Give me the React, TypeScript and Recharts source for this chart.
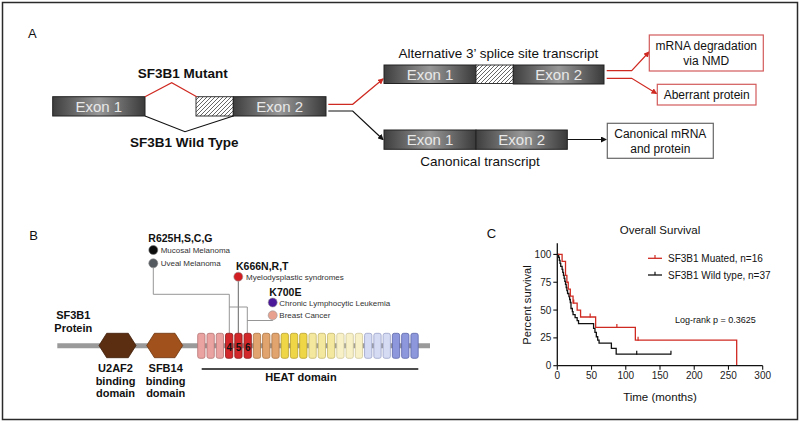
import React from 'react';
import { ComposedChart, Line, Scatter, XAxis, YAxis } from 'recharts';

// ---------- Panel C data (Kaplan-Meier, Overall Survival) ----------
const mutTimes = [0, 7, 12, 14, 16, 19, 23, 29, 34, 56, 114, 262];
const mutSurv = [100, 93.75, 81.25, 75, 68.75, 62.5, 56.25, 50, 43.75, 34.4, 22.9, 0];
const mutCensorTimes = [24, 48, 87, 118];
const mutCensorSurv = [56.25, 43.75, 34.4, 22.9];

const wtTimes = [0, 2, 3, 4, 5, 7, 8, 9, 10, 11, 12, 13, 14, 15, 17, 18, 19, 20, 22, 23, 26, 29, 31, 53, 55, 57, 59, 61, 79, 86, 166];
const wtSurv = [100, 97.3, 94.6, 91.9, 89.2, 86.5, 83.8, 81.1, 78.4, 75.7, 73, 70.3, 67.6, 64.9, 62.2, 59.5, 56.8, 51.4, 48.6, 45.9, 43.2, 40.5, 37.8, 33.5, 30, 26, 23, 20.3, 15.6, 10.4, 10.4];
const wtCensorTimes = [116, 166];
const wtCensorSurv = [10.4, 10.4];

const xTicks = [0, 50, 100, 150, 200, 250, 300];
const yTicks = [0, 25, 50, 75, 100];

const seriesNames = ['SF3B1 Muated, n=16', 'SF3B1 Wild type, n=37'];

// ---------- Panel B data ----------
const heatFills = ['#eaa3a1', '#eaa3a1', '#eaa3a1', '#d3282b', '#d3282b', '#d3282b', '#e1a46e', '#e1a46e', '#e1a46e', '#eed646', '#eed646', '#eed646', '#f3e89e', '#f3e89e', '#f3e89e', '#f8f1c7', '#f8f1c7', '#f8f1c7', '#d5dbf3', '#d5dbf3', '#d5dbf3', '#8d98dc', '#8d98dc', '#8d98dc'];
const heatStrokes = ['#b27472', '#b27472', '#b27472', '#8a1a1a', '#8a1a1a', '#8a1a1a', '#aa7444', '#aa7444', '#aa7444', '#b8a030', '#b8a030', '#b8a030', '#c4b670', '#c4b670', '#c4b670', '#cfc69a', '#cfc69a', '#cfc69a', '#9aa2c8', '#9aa2c8', '#9aa2c8', '#5c66a8', '#5c66a8', '#5c66a8'];
const heatNumbers = ['', '', '', '4', '5', '6'];

const mutData = mutTimes.map((t, i) => ({ t, s: mutSurv[i] }));
const wtData = wtTimes.map((t, i) => ({ t, s: wtSurv[i] }));
const mutCensor = mutCensorTimes.map((t, i) => ({ t, s: mutCensorSurv[i] }));
const wtCensor = wtCensorTimes.map((t, i) => ({ t, s: wtCensorSurv[i] }));

const RED = '#cf2a22';
const BLK = '#111111';
const FONT = '"Liberation Sans", Arial, Helvetica, sans-serif';

const censorShape = (color: string) => (props: any) => {
  const { cx, cy } = props;
  if (cx == null || cy == null) return <g />;
  return <line x1={cx} x2={cx} y1={cy - 3.5} y2={cy + 0.5} stroke={color} strokeWidth={1.2} />;
};

function Exon({ x, y, w, h, label }: { x: number; y: number; w: number; h: number; label: string }) {
  return (
    <g>
      <rect x={x} y={y} width={w} height={h} fill="url(#exonGrad)" stroke="#222" strokeWidth={1} />
      <text x={x + w / 2} y={y + h / 2 + 5.4} textAnchor="middle" fontSize={15} fill="#e8e8e8">{label}</text>
    </g>
  );
}

function Hatch({ x, y, w, h }: { x: number; y: number; w: number; h: number }) {
  return <rect x={x} y={y} width={w} height={h} fill="url(#hatch)" stroke="#333" strokeWidth={1} />;
}

function hexPoints(x0: number, x1: number, y0: number, y1: number, d: number) {
  const cy = (y0 + y1) / 2;
  return `${x0},${cy} ${x0 + d},${y0} ${x1 - d},${y0} ${x1},${cy} ${x1 - d},${y1} ${x0 + d},${y1}`;
}

function Diagram() {
  const heatX0 = 197.7;
  const heatStep = 9.27;
  const heatW = 7.3;
  return (
    <svg width={800} height={423} style={{ position: 'absolute', left: 0, top: 0 }} fontFamily={FONT}>
      <defs>
        <linearGradient id="exonGrad" x1="0" y1="0" x2="1" y2="0">
          <stop offset="0" stopColor="#3e3e3e" />
          <stop offset="0.5" stopColor="#979797" />
          <stop offset="1" stopColor="#3a3a3a" />
        </linearGradient>
        <pattern id="hatch" patternUnits="userSpaceOnUse" width={4} height={4}>
          <rect width={4} height={4} fill="#fff" />
          <path d="M-1,1 l2,-2 M0,4 l4,-4 M3,5 l2,-2" stroke="#555" strokeWidth={0.9} />
        </pattern>
        <marker id="arrRed" markerWidth={6} markerHeight={6} refX={5} refY={3} orient="auto" markerUnits="userSpaceOnUse">
          <path d="M0,0 L6,3 L0,6 z" fill={RED} />
        </marker>
        <marker id="arrBlk" markerWidth={6} markerHeight={6} refX={5} refY={3} orient="auto" markerUnits="userSpaceOnUse">
          <path d="M0,0 L6,3 L0,6 z" fill="#111" />
        </marker>
      </defs>

      <rect x={2.5} y={2.5} width={795} height={417} fill="none" stroke="#2a2a2a" strokeWidth={1.5} />

      {/* Panel A */}
      <text x={28} y={37.7} fontSize={13} fill="#111">A</text>
      <Exon x={52.7} y={96.7} w={92.3} h={19.3} label="Exon 1" />
      <Hatch x={196} y={96.7} w={37.3} h={19.3} />
      <Exon x={233.3} y={96.7} w={92.7} h={19.3} label="Exon 2" />
      <polyline points="145,96.7 171.7,82.7 196.7,96.7" fill="none" stroke={RED} strokeWidth={1.2} />
      <polyline points="145,116 185,131.7 233.3,116" fill="none" stroke="#111" strokeWidth={1.2} />
      <text x={182.7} y={77.5} textAnchor="middle" fontSize={13.5} fontWeight="bold" fill="#111">SF3B1 Mutant</text>
      <text x={184.3} y={146.5} textAnchor="middle" fontSize={13.5} fontWeight="bold" fill="#111">SF3B1 Wild Type</text>

      <polyline points="328.3,104.3 352.7,104.3 383,79" fill="none" stroke={RED} strokeWidth={1.2} markerEnd="url(#arrRed)" />
      <polyline points="328.3,111 352.7,111 383,139.5" fill="none" stroke="#111" strokeWidth={1.2} markerEnd="url(#arrBlk)" />

      <text x={498.3} y={58} textAnchor="middle" fontSize={13.5} fill="#111">Alternative 3’ splice site transcript</text>
      <Exon x={384} y={65} w={92} h={18.5} label="Exon 1" />
      <Hatch x={476} y={65} w={37.3} h={18.5} />
      <Exon x={513.3} y={65} w={90.7} h={19} label="Exon 2" />

      <polyline points="606.7,70.7 631.7,70.7 649,52" fill="none" stroke={RED} strokeWidth={1.2} markerEnd="url(#arrRed)" />
      <polyline points="606.7,78.3 631.7,78.3 656.5,93.5" fill="none" stroke={RED} strokeWidth={1.2} markerEnd="url(#arrRed)" />
      <rect x={649.3} y={35} width={114} height={36} fill="#fff" stroke="#d25a5a" strokeWidth={1.2} />
      <text x={706.3} y={49.8} textAnchor="middle" fontSize={12} fill="#111">mRNA degradation</text>
      <text x={706.3} y={65} textAnchor="middle" fontSize={12} fill="#111">via NMD</text>
      <rect x={657.3} y={84.3} width={98.7} height={20.7} fill="#fff" stroke="#d25a5a" strokeWidth={1.2} />
      <text x={706.7} y={99} textAnchor="middle" fontSize={12} fill="#111">Aberrant protein</text>

      <Exon x={384} y={130} w={92} h={19.3} label="Exon 1" />
      <Exon x={476} y={130} w={91.3} h={19.3} label="Exon 2" />
      <text x={480} y={165.5} textAnchor="middle" fontSize={13.5} fill="#111">Canonical transcript</text>
      <line x1={567.3} y1={139.5} x2={606} y2={139.5} stroke="#111" strokeWidth={1.2} markerEnd="url(#arrBlk)" />
      <rect x={607.3} y={123.3} width={106} height={35} fill="#fff" stroke="#666" strokeWidth={1.2} />
      <text x={660.3} y={137.5} textAnchor="middle" fontSize={12} fill="#111">Canonical mRNA</text>
      <text x={660.3} y={152.5} textAnchor="middle" fontSize={12} fill="#111">and protein</text>

      {/* Panel B */}
      <text x={29.3} y={240} fontSize={13} fill="#111">B</text>
      <line x1={57.3} y1={345.7} x2={430} y2={345.7} stroke="#9a9a9a" strokeWidth={5} />
      <polygon points={hexPoints(99, 136, 333.3, 357.7, 7.7)} fill="#5b2e12" stroke="#3e1d08" strokeWidth={0.8} />
      <polygon points={hexPoints(146.7, 182.7, 333.3, 357.7, 7.7)} fill="#a1521c" stroke="#6e360f" strokeWidth={0.8} />
      <text textAnchor="middle" fontSize={11} fontWeight="bold" fill="#111">
        <tspan x={73.3} y={319}>SF3B1</tspan>
        <tspan x={73.3} y={331.5}>Protein</tspan>
      </text>
      <text textAnchor="middle" fontSize={11} fontWeight="bold" fill="#111">
        <tspan x={115.5} y={372.3}>U2AF2</tspan>
        <tspan x={115.5} y={384.8}>binding</tspan>
        <tspan x={115.5} y={397.3}>domain</tspan>
      </text>
      <text textAnchor="middle" fontSize={11} fontWeight="bold" fill="#111">
        <tspan x={165.7} y={372.3}>SFB14</tspan>
        <tspan x={165.7} y={384.8}>binding</tspan>
        <tspan x={165.7} y={397.3}>domain</tspan>
      </text>

      {/* mutation connectors */}
      <polyline points="153.3,267.8 153.3,294.3 229.3,294.3 229.3,333.3" fill="none" stroke="#8a8a8a" strokeWidth={0.9} />
      <line x1={238.3} y1={281.2} x2={238.3} y2={333.3} stroke="#555" strokeWidth={0.9} />
      <polyline points="229.3,307 247.3,307 247.3,333.3" fill="none" stroke="#8a8a8a" strokeWidth={0.9} />
      <polyline points="272.7,319.8 272.7,320.5 247.3,320.5" fill="none" stroke="#8a8a8a" strokeWidth={0.9} />

      {heatFills.map((f, i) => {
        const x = heatX0 + i * heatStep;
        return (
          <g key={i}>
            <rect x={x} y={333.3} width={heatW} height={25} rx={2} fill={f} stroke={heatStrokes[i]} strokeWidth={0.8} />
            {heatNumbers[i] ? (
              <text x={x + heatW / 2} y={350.5} textAnchor="middle" fontSize={10} fontWeight="bold" fill="#111">{heatNumbers[i]}</text>
            ) : null}
          </g>
        );
      })}
      <line x1={201.7} y1={369} x2={418.3} y2={369} stroke="#111" strokeWidth={1.3} />
      <text x={301} y={380.7} textAnchor="middle" fontSize={11} fontWeight="bold" fill="#111">HEAT domain</text>

      <text x={148.3} y={242} fontSize={10.5} fontWeight="bold" fill="#111">R625H,S,C,G</text>
      <circle cx={153.3} cy={250} r={4.5} fill="#0c0c0c" stroke="#777" strokeWidth={0.6} />
      <text x={160.7} y={252.8} fontSize={8} fill="#333">Mucosal Melanoma</text>
      <circle cx={153.3} cy={263.3} r={4.5} fill="#555a60" stroke="#888" strokeWidth={0.6} />
      <text x={160.7} y={266} fontSize={8} fill="#333">Uveal Melanoma</text>

      <text x={236} y={269.5} fontSize={10.5} fontWeight="bold" fill="#111">K666N,R,T</text>
      <circle cx={238.3} cy={276.7} r={4.5} fill="#d01e22" stroke="#999" strokeWidth={0.6} />
      <text x={246} y={279.8} fontSize={8} fill="#333">Myelodysplastic syndromes</text>

      <text x={269.3} y={295.5} fontSize={10.5} fontWeight="bold" fill="#111">K700E</text>
      <circle cx={272.7} cy={302.5} r={4.5} fill="#4a1898" stroke="#999" strokeWidth={0.6} />
      <text x={279.3} y={306} fontSize={8} fill="#333">Chronic Lymphocytic Leukemia</text>
      <circle cx={272.7} cy={315.3} r={4.5} fill="#e8a18f" stroke="#999" strokeWidth={0.6} />
      <text x={279.3} y={318} fontSize={8} fill="#333">Breast Cancer</text>

      {/* Panel C texts */}
      <text x={486.7} y={238} fontSize={13} fill="#111">C</text>
      <text x={660} y={234} textAnchor="middle" fontSize={11.5} fill="#111">Overall Survival</text>
      <text x={530.5} y={305} textAnchor="middle" fontSize={11.2} fill="#111" transform="rotate(-90 530.5 305)">Percent survival</text>
      <text x={660} y={400.8} textAnchor="middle" fontSize={11.5} fill="#111">Time (months)</text>
      <line x1={648} y1={258.3} x2={662} y2={258.3} stroke={RED} strokeWidth={1.3} />
      <line x1={655} y1={255} x2={655} y2={258.3} stroke={RED} strokeWidth={1.2} />
      <text x={668} y={261.8} fontSize={10} fill="#111">{seriesNames[0]}</text>
      <line x1={648} y1={275} x2={662} y2={275} stroke={BLK} strokeWidth={1.3} />
      <line x1={655} y1={271.7} x2={655} y2={275} stroke={BLK} strokeWidth={1.2} />
      <text x={668} y={278.5} fontSize={10} fill="#111">{seriesNames[1]}</text>
      <text x={675} y={323.2} fontSize={9} fill="#111">Log-rank p = 0.3625</text>
    </svg>
  );
}

export default function App() {
  return (
    <div style={{ position: 'fixed', left: 0, top: 0, width: 800, height: 423, background: '#fff', overflow: 'hidden', fontFamily: FONT }}>
      <Diagram />
      <div style={{ position: 'absolute', left: 480, top: 220 }}>
        <ComposedChart width={320} height={203} margin={{ top: 23.3, right: 37.3, bottom: 0, left: 0 }}>
          <XAxis
            type="number"
            dataKey="t"
            domain={[0, 300]}
            ticks={xTicks}
            allowDataOverflow
            height={57.3}
            tickSize={4}
            tickMargin={2}
            axisLine={{ stroke: '#111', strokeWidth: 1.3 }}
            tickLine={{ stroke: '#111', strokeWidth: 1.1 }}
            tick={{ fontSize: 10, fill: '#222', fontFamily: FONT }}
            interval={0}
          />
          <YAxis
            type="number"
            dataKey="s"
            domain={[0, 110]}
            ticks={yTicks}
            allowDataOverflow
            width={77.3}
            tickSize={4}
            tickMargin={2}
            axisLine={{ stroke: '#111', strokeWidth: 1.3 }}
            tickLine={{ stroke: '#111', strokeWidth: 1.1 }}
            tick={{ fontSize: 10, fill: '#222', fontFamily: FONT }}
            interval={0}
          />
          <Line data={wtData} dataKey="s" type="stepAfter" stroke={BLK} strokeWidth={1.3} dot={false} isAnimationActive={false} />
          <Line data={mutData} dataKey="s" type="stepAfter" stroke={RED} strokeWidth={1.3} dot={false} isAnimationActive={false} />
          <Scatter data={wtCensor} dataKey="s" shape={censorShape(BLK)} isAnimationActive={false} />
          <Scatter data={mutCensor} dataKey="s" shape={censorShape(RED)} isAnimationActive={false} />
        </ComposedChart>
      </div>
    </div>
  );
}
